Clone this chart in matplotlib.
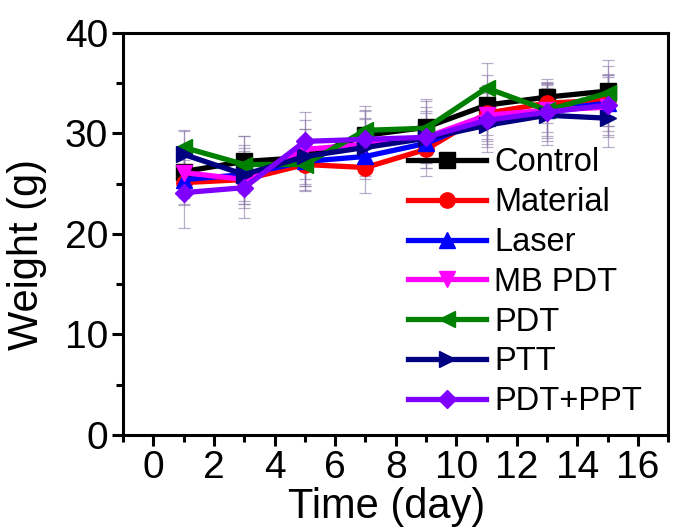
import matplotlib
matplotlib.use("Agg")
import matplotlib.pyplot as plt
from matplotlib.ticker import MultipleLocator

plt.rcParams['font.family'] = ['Liberation Sans', 'DejaVu Sans']

days = [1, 3, 5, 7, 9, 11, 13, 15]
labels = ["Control", "Material", "Laser", "MB PDT", "PDT", "PTT", "PDT+PPT"]
control = [26.2, 27.2, 27.6, 29.8, 30.6, 32.8, 33.6, 34.2]
material = [25.1, 25.4, 26.9, 26.6, 28.4, 32.0, 33.0, 33.3]
laser = [25.4, 25.9, 27.2, 27.7, 29.0, 31.5, 32.3, 33.0]
mb_pdt = [26.1, 25.4, 28.4, 28.9, 29.6, 31.8, 32.3, 32.6]
pdt = [28.6, 26.9, 26.9, 30.3, 30.5, 34.5, 32.3, 34.0]
ptt = [27.9, 25.9, 27.7, 28.6, 29.5, 30.8, 31.8, 31.5]
pdt_ppt = [24.1, 24.6, 29.2, 29.4, 29.6, 31.3, 32.1, 32.8]

err_control = [2.0, 2.5, 2.8, 2.5, 2.8, 3.0, 1.8, 2.5]
err_material = [2.2, 2.8, 2.6, 2.5, 2.6, 2.8, 2.0, 2.6]
err_laser = [2.4, 2.6, 2.4, 2.2, 2.4, 2.6, 2.2, 2.8]
err_mb_pdt = [2.5, 2.4, 2.9, 2.6, 3.0, 2.4, 2.6, 3.0]
err_pdt = [1.7, 2.8, 2.5, 2.4, 2.7, 2.5, 2.8, 3.3]
err_ptt = [2.3, 2.9, 2.7, 2.8, 2.5, 2.7, 3.0, 2.9]
err_pdt_ppt = [3.5, 3.0, 2.9, 2.8, 2.6, 2.7, 2.9, 3.0]

series = [control, material, laser, mb_pdt, pdt, ptt, pdt_ppt]
errors = [err_control, err_material, err_laser, err_mb_pdt, err_pdt, err_ptt, err_pdt_ppt]
colors = ["#000000", "#ff0000", "#0000ff", "#ff00ff", "#008000", "#000080", "#7f00ff"]
markers = ["s", "o", "^", "v", "<", ">", "D"]

fig = plt.figure(figsize=(6.73, 5.28), dpi=100)
ax = fig.add_axes([0.183, 0.176, 0.810, 0.762])

for y, e in zip(series, errors):
    ax.errorbar(days, y, yerr=e, fmt='none', ecolor='#8a78a8', elinewidth=0.9,
                capsize=4, capthick=0.9, alpha=0.6, zorder=1)

for y, lab, c, m in zip(series, labels, colors, markers):
    ms = 9 if m == 'D' else 11
    ax.plot(days, y, color=c, marker=m, markersize=ms, linewidth=3.8, label=lab, zorder=3)

ax.set_xlim(-1, 17)
ax.set_ylim(0, 40)
ax.xaxis.set_major_locator(MultipleLocator(2))
ax.xaxis.set_minor_locator(MultipleLocator(1))
ax.yaxis.set_major_locator(MultipleLocator(10))
ax.yaxis.set_minor_locator(MultipleLocator(5))
ax.tick_params(which='major', direction='out', length=8, width=2.2, labelsize=28, pad=3)
ax.tick_params(which='minor', direction='out', length=5, width=2.2)
for s in ax.spines.values():
    s.set_linewidth(2.2)

ax.set_xlabel("Time (day)", fontsize=30)
ax.set_ylabel("Weight (g)", fontsize=30)
ax.xaxis.label.set_va('center')
ax.yaxis.label.set_va('center')
ax.xaxis.set_label_coords(0.483, -0.18)
ax.yaxis.set_label_coords(-0.176, 0.45)

leg = ax.legend(loc='upper left', bbox_to_anchor=(0.522, 0.715), frameon=False,
                fontsize=23.5, handlelength=2.4, handletextpad=0.25, labelspacing=0.27,
                borderpad=0, borderaxespad=0)

fig.savefig("out.png", dpi=100)
